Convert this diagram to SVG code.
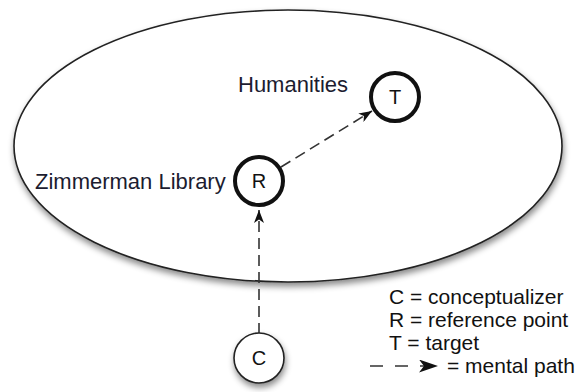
<svg xmlns="http://www.w3.org/2000/svg" width="580" height="392" viewBox="0 0 580 392">
<defs>
<filter id="sh" x="-20%" y="-20%" width="140%" height="150%">
<feDropShadow dx="1" dy="4" stdDeviation="3" flood-color="#000" flood-opacity="0.45"/>
</filter>
<marker id="ah" viewBox="0 0 13 10" refX="13" refY="5" markerWidth="13" markerHeight="10" markerUnits="userSpaceOnUse" orient="auto">
<path d="M0,0 L13,5 L0,10 L3.5,5 Z" fill="#111"/>
</marker>
<marker id="ahBig" viewBox="0 0 19 13" refX="19" refY="6.5" markerWidth="19" markerHeight="13" markerUnits="userSpaceOnUse" orient="auto">
<path d="M0,0 L19,6.5 L0,13 L5,6.5 Z" fill="#111"/>
</marker>
<style>
text{font-family:"Liberation Sans",Arial,Helvetica,sans-serif;fill:#111}
.lbl{font-size:22px;fill:#1c1c30}
.ltr{font-size:20px;text-anchor:middle}
.leg{font-size:21px}
.node{fill:#fff;stroke:#111;stroke-width:4}
.cnode{fill:#fff;stroke:#222;stroke-width:1.6}
.conn{fill:none;stroke:#333;stroke-width:1.6;stroke-dasharray:11 6}
</style>
</defs>
<rect width="580" height="392" fill="#fff"/>
<g id="region">
<ellipse cx="288" cy="146" rx="274" ry="136" fill="#fff" stroke="#222" stroke-width="1.6" filter="url(#sh)"/>
</g>
<g id="connectors">
<path class="conn" d="M281,167 L372,111" marker-end="url(#ah)"/>
<path class="conn" d="M259,334 L259,210" marker-end="url(#ah)"/>
</g>
<g id="node-R">
<circle class="node" cx="259" cy="181" r="24"/>
<text class="ltr" x="259" y="188">R</text>
<text class="lbl" x="35" y="189">Zimmerman Library</text>
</g>
<g id="node-T">
<circle class="node" cx="395" cy="97" r="24"/>
<text class="ltr" x="395" y="104">T</text>
<text class="lbl" x="238" y="92">Humanities</text>
</g>
<g id="node-C">
<circle class="cnode" cx="259" cy="358" r="25" filter="url(#sh)"/>
<text class="ltr" x="259" y="365">C</text>
</g>
<g id="legend">
<text class="leg" x="389" y="304">C = conceptualizer</text>
<text class="leg" x="389" y="327">R = reference point</text>
<text class="leg" x="389" y="350">T = target</text>
<path d="M370,366 L438,366" fill="none" stroke="#333" stroke-width="1.6" stroke-dasharray="13 12" marker-end="url(#ahBig)"/>
<text class="leg" x="447" y="373">= mental path</text>
</g>
</svg>
